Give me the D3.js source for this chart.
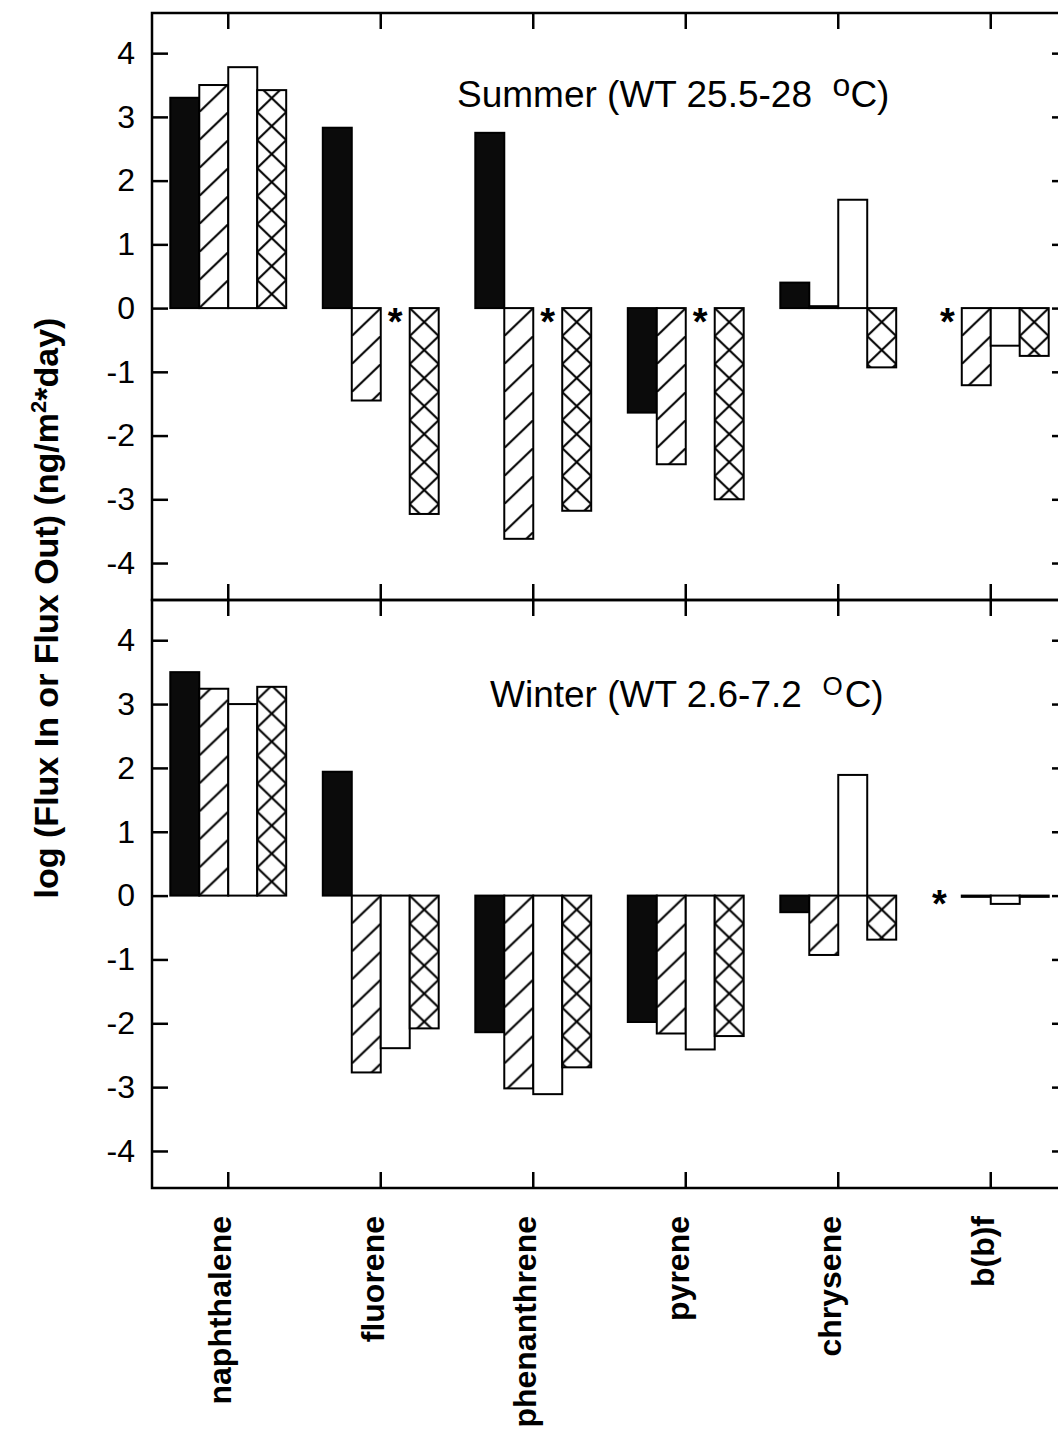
<!DOCTYPE html>
<html>
<head>
<meta charset="utf-8">
<script src="https://cdn.jsdelivr.net/npm/d3@7/dist/d3.min.js"></script>
<style>
  body { margin: 0; background: #fff; }
  svg { display: block; }
  text { font-family: "Liberation Sans", Arial, Helvetica, sans-serif; fill: #000; }
</style>
</head>
<body>
<svg id="chart"></svg>
<script>
// Compounds along the x axis
const compounds = ["naphthalene", "fluorene", "phenanthrene", "pyrene", "chrysene", "b(b)f"];
// Four flux series per compound: solid, hatched, open, cross-hatched
const seriesKeys = ["solid", "hatched", "open", "cross"];

// log flux values, summer (null = not determined, marked with *)
const summerSolid   = [3.30, 2.83, 2.75, -1.64, 0.40, null];
const summerHatched = [3.50, -1.45, -3.62, -2.45, 0.03, -1.21];
const summerOpen    = [3.78, null, null, null, 1.70, -0.59];
const summerCross   = [3.42, -3.23, -3.18, -3.00, -0.93, -0.75];

// log flux values, winter
const winterSolid   = [3.50, 1.94, -2.14, -1.98, -0.26, null];
const winterHatched = [3.24, -2.77, -3.02, -2.16, -0.93, -0.02];
const winterOpen    = [3.00, -2.39, -3.11, -2.41, 1.89, -0.13];
const winterCross   = [3.27, -2.08, -2.69, -2.20, -0.69, -0.02];

const yTicks = [-4, -3, -2, -1, 0, 1, 2, 3, 4];
const yDomain = [-4.58, 4.63];
const yTitle = "log (Flux In or Flux Out) (ng/m";
const summerTitle = ["Summer (WT 25.5-28  ", "o", "C)"];
const winterTitle = ["Winter (WT 2.6-7.2  ", "O", "C)"];

const W = 1058, H = 1433;
const plotLeft = 152, plotRight = 1067;

const svg = d3.select("#chart").attr("width", W).attr("height", H);
const defs = svg.append("defs");

const x0 = d3.scaleBand().domain(compounds).range([plotLeft, plotRight])
  .paddingInner(0.24).paddingOuter(0.12);
const x1 = d3.scaleBand().domain(seriesKeys).range([0, x0.bandwidth()]);
const bw = x1.bandwidth();

function rows(solid, hatched, open, cross) {
  const cols = { solid, hatched, open, cross };
  const out = [];
  compounds.forEach((c, i) => seriesKeys.forEach(s => out.push({ c, s, v: cols[s][i] })));
  return out;
}

const panels = [
  { key: "su", top: 13, bottom: 600, data: rows(summerSolid, summerHatched, summerOpen, summerCross),
    title: summerTitle, titleX: 457, titleV: 3.16, supSize: 32, supDy: -11, cDx: 0,
    starDy: 27, starDx: 0 },
  { key: "wi", top: 600, bottom: 1188, data: rows(winterSolid, winterHatched, winterOpen, winterCross),
    title: winterTitle, titleX: 490, titleV: 2.96, supSize: 26, supDy: -12, cDx: 2,
    starDy: 21, starDx: -8 }
];

panels.forEach(p => {
  const y = d3.scaleLinear().domain(yDomain).range([p.bottom, p.top]);
  const y0 = y(0);
  const g = svg.append("g");

  // fill patterns anchored to each bar's left edge
  p.data.forEach((d, i) => {
    if (d.v === null || (d.s !== "hatched" && d.s !== "cross")) return;
    const bx = x0(d.c) + x1(d.s);
    const th = 28;
    const pat = defs.append("pattern")
      .attr("id", `${p.key}-${i}`)
      .attr("patternUnits", "userSpaceOnUse")
      .attr("x", bx).attr("y", y0)
      .attr("width", bw).attr("height", th);
    pat.append("rect").attr("width", bw).attr("height", th).attr("fill", "#fff");
    pat.append("line").attr("x1", 0).attr("y1", th).attr("x2", bw).attr("y2", 0)
      .attr("stroke", "#000").attr("stroke-width", 2);
    if (d.s === "cross") {
      pat.append("line").attr("x1", 0).attr("y1", 0).attr("x2", bw).attr("y2", th)
        .attr("stroke", "#000").attr("stroke-width", 2);
    }
  });

  const fillFor = (d, i) => d.s === "solid" ? "#0b0b0b" : d.s === "open" ? "#fff" : `url(#${p.key}-${i})`;

  g.selectAll("rect.bar")
    .data(p.data.map((d, i) => ({ ...d, i })).filter(d => d.v !== null))
    .join("rect")
    .attr("class", "bar")
    .attr("x", d => x0(d.c) + x1(d.s))
    .attr("y", d => Math.min(y(d.v), y0))
    .attr("width", bw)
    .attr("height", d => Math.abs(y(d.v) - y0))
    .attr("fill", d => fillFor(d, d.i))
    .attr("stroke", "#000")
    .attr("stroke-width", 2);

  // asterisks for missing values
  g.selectAll("text.star")
    .data(p.data.filter(d => d.v === null))
    .join("text")
    .attr("class", "star")
    .attr("x", d => x0(d.c) + x1(d.s) + bw / 2 + p.starDx)
    .attr("y", y0 + p.starDy)
    .attr("text-anchor", "middle")
    .attr("font-size", 38)
    .attr("font-weight", "bold")
    .text("*");

  // left axis with inward ticks
  const ax = g.append("g").attr("transform", `translate(${plotLeft},0)`)
    .call(d3.axisLeft(y).tickValues(yTicks).tickSize(-16).tickPadding(17).tickFormat(d3.format("d")));
  ax.select(".domain").remove();
  ax.selectAll("line").attr("stroke", "#000").attr("stroke-width", 2.5);
  ax.selectAll("text").attr("font-size", 32).style("font-family", "'Liberation Sans', Arial, sans-serif")
    .text(d => String(d).replace("\u2212", "-"));

  // right axis ticks
  const axr = g.append("g").attr("transform", `translate(${plotRight},0)`)
    .call(d3.axisRight(y).tickValues(yTicks).tickSize(-15).tickFormat(""));
  axr.select(".domain").remove();
  axr.selectAll("line").attr("stroke", "#000").attr("stroke-width", 2.5);

  // category ticks at top and bottom of the panel
  const axt = g.append("g").attr("transform", `translate(0,${p.top})`)
    .call(d3.axisTop(x0).tickSize(-16).tickFormat(""));
  axt.select(".domain").remove();
  axt.selectAll("line").attr("stroke", "#000").attr("stroke-width", 2.5);
  const axb = g.append("g").attr("transform", `translate(0,${p.bottom})`)
    .call(d3.axisBottom(x0).tickSize(-16).tickFormat(""));
  axb.select(".domain").remove();
  axb.selectAll("line").attr("stroke", "#000").attr("stroke-width", 2.5);

  // frame
  g.append("rect")
    .attr("x", plotLeft).attr("y", p.top)
    .attr("width", plotRight - plotLeft).attr("height", p.bottom - p.top)
    .attr("fill", "none").attr("stroke", "#000").attr("stroke-width", 2.5);

  // season title
  const t = g.append("text")
    .attr("x", p.titleX).attr("y", y(p.titleV))
    .attr("font-size", 37)
    .style("white-space", "pre");
  t.append("tspan").text(p.title[0]);
  t.append("tspan").attr("font-size", p.supSize).attr("dy", p.supDy).text(p.title[1]);
  t.append("tspan").attr("dy", -p.supDy).attr("dx", p.cDx).text(p.title[2]);
});

// compound labels, rotated
svg.append("g").selectAll("text")
  .data(compounds)
  .join("text")
  .attr("transform", d => `translate(${x0(d) + x0.bandwidth() / 2 + 3},1216) rotate(-90)`)
  .attr("text-anchor", "end")
  .attr("font-size", 32)
  .attr("font-weight", "bold")
  .text(d => d);

// y axis title
const yt = svg.append("text")
  .attr("transform", "translate(58,608) rotate(-90)")
  .attr("text-anchor", "middle")
  .attr("font-size", 34)
  .attr("font-weight", "bold");
yt.append("tspan").text(yTitle);
yt.append("tspan").attr("font-size", 22).attr("dy", -12).text("2");
yt.append("tspan").attr("dy", 12).text("*day)");
</script>
</body>
</html>
